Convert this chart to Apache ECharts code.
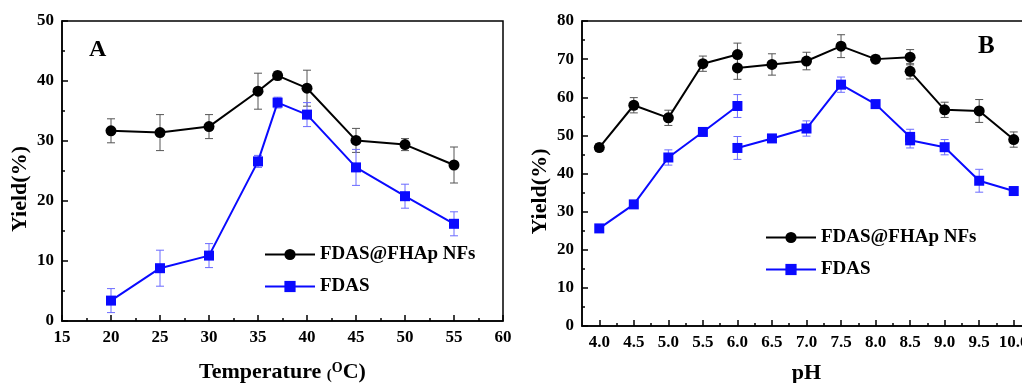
<!DOCTYPE html>
<html>
<head>
<meta charset="utf-8">
<script src="https://cdn.jsdelivr.net/npm/echarts@6/dist/echarts.min.js"></script>
<style>
  html, body { margin: 0; padding: 0; background: #fff; }
  #chart { width: 1022px; height: 383px; }
</style>
</head>
<body>
<div id="chart"></div>
<script>
// panel A: temperature
var tempX = [20, 25, 30, 35, 37, 40, 45, 50, 55];
var tempHybrid = [31.7, 31.4, 32.4, 38.3, 40.9, 38.8, 30.1, 29.4, 26.0];
var tempHybridErr = [2, 3, 2, 3, 0.7, 3, 2, 1, 3];
var tempFdas = [3.4, 8.8, 10.9, 26.6, 36.4, 34.4, 25.6, 20.8, 16.2];
var tempFdasErr = [2, 3, 2, 1, 0.9, 2, 3, 2, 2];

// panel B: pH (the curve is broken at 6.0 and 8.5)
var phX = [4.0, 4.5, 5.0, 5.5, 6.0, 6.0, 6.5, 7.0, 7.5, 8.0, 8.5, 8.5, 9.0, 9.5, 10.0];
var phBreaks = [5, 11];
var phHybrid = [46.8, 57.9, 54.6, 68.8, 71.2, 67.7, 68.6, 69.5, 73.4, 70.0, 70.5, 66.8, 56.7, 56.4, 48.9];
var phHybridErr = [1, 2, 2, 2, 3, 3, 2.8, 2.3, 3, 1, 2, 2, 2, 3, 2];
var phFdas = [25.6, 31.9, 44.2, 50.9, 57.7, 46.7, 49.2, 51.8, 63.3, 58.2, 49.6, 48.7, 46.9, 38.1, 35.4];
var phFdasErr = [1, 1, 2, 1, 3, 3, 1, 2, 2, 1, 2, 2, 2, 3, 1];
var phTicks = [4.0, 4.5, 5.0, 5.5, 6.0, 6.5, 7.0, 7.5, 8.0, 8.5, 9.0, 9.5, 10.0];

var names = ['FDAS@FHAp NFs', 'FDAS'];
var FONT = '"Liberation Serif", "Times New Roman", serif';

function lineData(xs, ys, breaks) {
    var out = [];
    xs.forEach(function (x, i) {
        if (breaks && breaks.indexOf(i) >= 0) out.push([x, '-']);
        out.push([x, ys[i]]);
    });
    return out;
}

function errData(xs, ys, es) {
    return xs.map(function (x, i) { return [x, ys[i], es[i]]; });
}

//误差线
function makeErrorBar(color) {
    return function (params, api) {
        var x = api.value(0), y = api.value(1), e = api.value(2);
        var hi = api.coord([x, y + e]);
        var lo = api.coord([x, y - e]);
        var cap = 4;
        var style = { stroke: color, lineWidth: 1 };
        return {
            type: 'group',
            children: [
                { type: 'line', shape: { x1: hi[0], y1: hi[1], x2: lo[0], y2: lo[1] }, style: style },
                { type: 'line', shape: { x1: hi[0] - cap, y1: hi[1], x2: hi[0] + cap, y2: hi[1] }, style: style },
                { type: 'line', shape: { x1: lo[0] - cap, y1: lo[1], x2: lo[0] + cap, y2: lo[1] }, style: style }
            ]
        };
    };
}

var tickLabel = { color: '#000', fontFamily: FONT, fontWeight: 'bold', fontSize: 17 };
var axisName = { color: '#000', fontFamily: FONT, fontWeight: 'bold', fontSize: 22 };
var axisLine = { show: true, lineStyle: { color: '#000', width: 1.5 } };

function lineSeries(name, data, xi, color, symbol, size) {
    return {
        type: 'line', name: name, data: data, xAxisIndex: xi, yAxisIndex: xi,
        symbol: symbol, symbolSize: size, connectNulls: false, z: 3,
        itemStyle: { color: color }, lineStyle: { color: color, width: 2 }
    };
}

function errSeries(data, xi, color) {
    return {
        type: 'custom', data: data, xAxisIndex: xi, yAxisIndex: xi, z: 2,
        renderItem: makeErrorBar(color), encode: { x: 0, y: 1 }, silent: true
    };
}

var chart = echarts.init(document.getElementById('chart'));
var option = {
    animation: false,
    backgroundColor: '#fff',
    title: [
        { text: 'A', left: 84, top: 33, textStyle: { fontFamily: FONT, fontWeight: 'bold', fontSize: 24, color: '#000' } },
        { text: 'B', left: 973, top: 29, textStyle: { fontFamily: FONT, fontWeight: 'bold', fontSize: 25, color: '#000' } }
    ],
    legend: [
        {
            data: names, orient: 'vertical', left: 259, top: 240, itemWidth: 50, itemHeight: 14, itemGap: 13,
            textStyle: { fontFamily: FONT, fontWeight: 'bold', fontSize: 19, color: '#000' }
        },
        {
            data: names, orient: 'vertical', left: 760, top: 223, itemWidth: 50, itemHeight: 14, itemGap: 13,
            textStyle: { fontFamily: FONT, fontWeight: 'bold', fontSize: 19, color: '#000' }
        }
    ],
    grid: [
        { left: 62, top: 21, width: 441, height: 300, show: true, borderColor: '#000', borderWidth: 1.5, outerBoundsMode: 'none' },
        { left: 582, top: 21, width: 449, height: 305, show: true, borderColor: '#000', borderWidth: 1.5, outerBoundsMode: 'none' }
    ],
    xAxis: [
        {
            type: 'value', gridIndex: 0, min: 15, max: 60, interval: 5,
            name: '{a|Temperature }{s|(}{o|O}{a|C)}', nameLocation: 'middle', nameGap: 40,
            nameTextStyle: {
                rich: {
                    a: axisName,
                    s: { color: '#000', fontFamily: FONT, fontWeight: 'bold', fontSize: 15, padding: [6, 0, 0, 0] },
                    o: { color: '#000', fontFamily: FONT, fontWeight: 'bold', fontSize: 14, padding: [0, 0, 9, 0] }
                }
            },
            axisLine: axisLine, splitLine: { show: false },
            axisTick: { inside: true, length: 6, lineStyle: { color: '#000', width: 1.5 } },
            minorTick: { show: true, splitNumber: 2, length: 3, lineStyle: { color: '#000', width: 1.5 } },
            axisLabel: tickLabel
        },
        {
            type: 'value', gridIndex: 1, min: 3.75, max: 10.25,
            name: 'pH', nameLocation: 'middle', nameGap: 36, nameTextStyle: axisName,
            axisLine: axisLine, splitLine: { show: false },
            axisTick: { inside: true, length: 6, customValues: phTicks, lineStyle: { color: '#000', width: 1.5 } },
            axisLabel: Object.assign({ customValues: phTicks, formatter: function (v) { return v.toFixed(1); } }, tickLabel)
        },
        {
            //次刻度
            type: 'value', gridIndex: 1, min: 3.75, max: 10.25, position: 'bottom',
            axisLine: { show: false }, splitLine: { show: false }, axisLabel: { show: false },
            axisTick: {
                inside: true, length: 3,
                customValues: phTicks.slice(1).map(function (v) { return v - 0.25; }),
                lineStyle: { color: '#000', width: 1.5 }
            }
        }
    ],
    yAxis: [
        {
            type: 'value', gridIndex: 0, min: 0, max: 50, interval: 10,
            name: 'Yield(%)', nameLocation: 'middle', nameGap: 31,
            nameTextStyle: Object.assign({ padding: [0, 36, 0, 0] }, axisName),
            axisLine: axisLine, splitLine: { show: false },
            axisTick: { inside: true, length: 6, lineStyle: { color: '#000', width: 1.5 } },
            minorTick: { show: true, splitNumber: 2, length: 3, lineStyle: { color: '#000', width: 1.5 } },
            axisLabel: tickLabel
        },
        {
            type: 'value', gridIndex: 1, min: 0, max: 80, interval: 10,
            name: 'Yield(%)', nameLocation: 'middle', nameGap: 31,
            nameTextStyle: Object.assign({ padding: [0, 36, 0, 0] }, axisName),
            axisLine: axisLine, splitLine: { show: false },
            axisTick: { inside: true, length: 6, lineStyle: { color: '#000', width: 1.5 } },
            minorTick: { show: true, splitNumber: 2, length: 3, lineStyle: { color: '#000', width: 1.5 } },
            axisLabel: tickLabel
        }
    ],
    series: [
        errSeries(errData(tempX, tempHybrid, tempHybridErr), 0, '#555'),
        errSeries(errData(tempX, tempFdas, tempFdasErr), 0, '#6b6bff'),
        lineSeries(names[0], lineData(tempX, tempHybrid), 0, '#000', 'circle', 11),
        lineSeries(names[1], lineData(tempX, tempFdas), 0, '#0a0aff', 'rect', 10),

        errSeries(errData(phX, phHybrid, phHybridErr), 1, '#555'),
        errSeries(errData(phX, phFdas, phFdasErr), 1, '#6b6bff'),
        lineSeries(names[0], lineData(phX, phHybrid, phBreaks), 1, '#000', 'circle', 11),
        lineSeries(names[1], lineData(phX, phFdas, phBreaks), 1, '#0a0aff', 'rect', 10)
    ]
};
chart.setOption(option);
</script>
</body>
</html>
